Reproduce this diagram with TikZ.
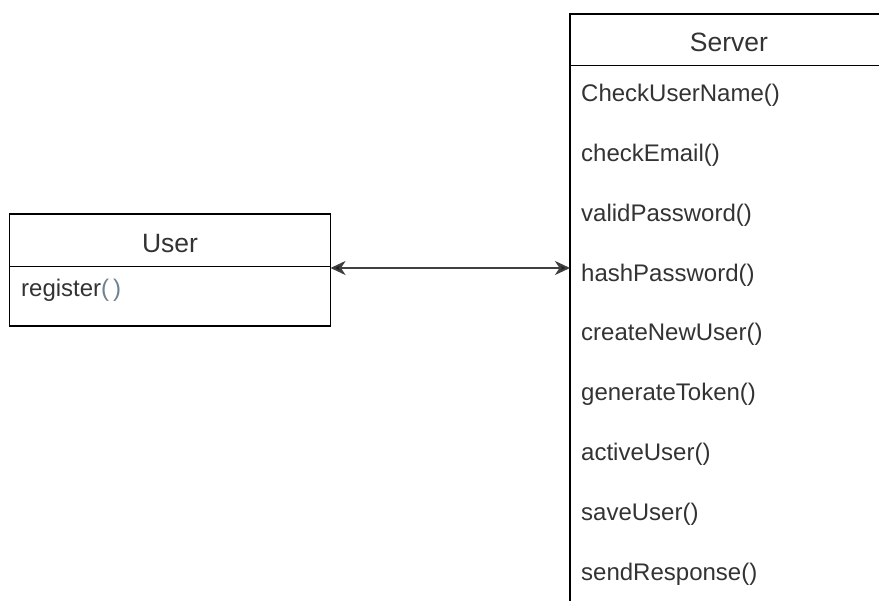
\documentclass[tikz,border=0pt]{standalone}
\usepackage{fontspec}
\setmainfont{Liberation Sans}
\usetikzlibrary{arrows.meta}
\definecolor{txt}{HTML}{333333}
\definecolor{paren}{HTML}{6E8191}
\begin{document}
\begin{tikzpicture}[x=1pt,y=-1pt,
  box/.style={draw=black, line width=1.6pt, anchor=north west, inner sep=0pt, outer sep=0pt},
  hdr/.style={box, font=\fontsize{26.5}{30}\selectfont, text=txt, text height=23.4pt, text depth=0pt},
  item/.style={anchor=base west, inner sep=0pt, font=\fontsize{24}{28}\selectfont, text=txt},
  tip/.style={Stealth[length=15pt,width=14pt,inset=4pt]},
  arr/.style={draw=black!75, line width=2pt, {Stealth[length=15pt,width=14pt,inset=4.5pt,fill=black!90]}-{Stealth[length=15pt,width=14pt,inset=4.5pt,fill=black!90]}}
]
\path[use as bounding box] (0,0) rectangle (879,601);
\clip (0,0) rectangle (879,601);
% User class
\node[hdr, minimum width=321pt, minimum height=52.7pt] (hdrU) at (9.5,214) {User};
\node[box, minimum width=321pt, minimum height=59.3pt] (bodyU) at (9.5,266.7) {};
\node[item] (reg) at (21,296.5) {register\textcolor{paren}{(\,)}};
% Server class
\node[hdr, minimum width=318pt, minimum height=51.7pt] (hdrS) at (570,14) {Server};
\node[box, minimum width=318pt, minimum height=560pt] (bodyS) at (570,65.7) {};
\node[item] (m1) at (581,102) {CheckUserName()};
\node[item] (m2) at (581,161.75) {checkEmail()};
\node[item] (m3) at (581,221.5) {validPassword()};
\node[item] (m4) at (581,281.25) {hashPassword()};
\node[item] (m5) at (581,341) {createNewUser()};
\node[item] (m6) at (581,400.75) {generateToken()};
\node[item] (m7) at (581,460.5) {activeUser()};
\node[item] (m8) at (581,520.25) {saveUser()};
\node[item] (m9) at (581,580) {sendResponse()};
% association
\coordinate (aL) at ([yshift=-1.3pt]hdrU.south east);
\draw[arr] (aL) -- (aL -| bodyS.west);
\end{tikzpicture}
\end{document}
